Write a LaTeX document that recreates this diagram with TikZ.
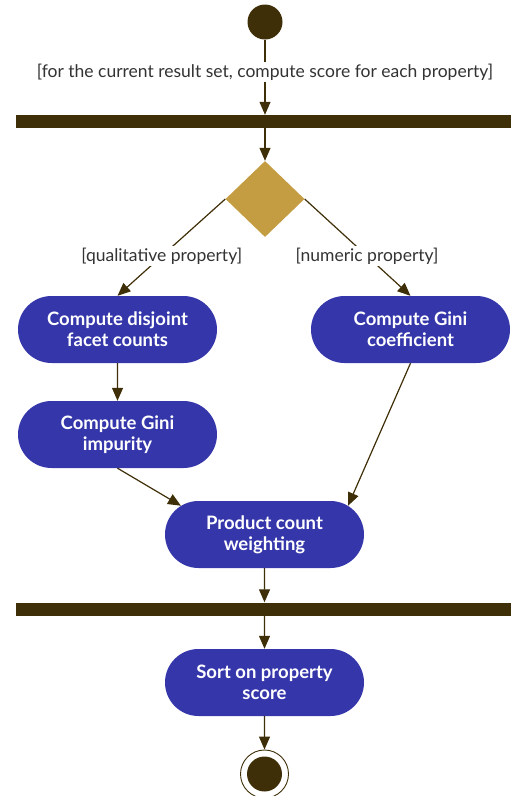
\documentclass[tikz,border=0pt]{standalone}
\usepackage{fontspec}
\setmainfont{Lato}
\usetikzlibrary{arrows.meta,shapes.geometric,shapes.misc}

\definecolor{umlbrown}{HTML}{3F2F08}
\definecolor{umlgold}{HTML}{C49D42}
\definecolor{umlblue}{HTML}{3436AA}
\definecolor{umlgray}{HTML}{333333}

\begin{document}
\begin{tikzpicture}[x=1pt,y=-1pt,
    flow/.style={draw=umlbrown,line width=1.2pt,-{Triangle[length=13pt,width=11pt]}},
    guard/.style={fill=white,text=umlgray,inner sep=2pt,font=\fontsize{17.5}{19}\selectfont},
    activity/.style={rounded rectangle,fill=umlblue,text=white,align=center,
      minimum width=203pt,minimum height=67pt,inner sep=2pt,
      font=\bfseries\fontsize{18.5}{21}\selectfont},
    forkbar/.style={rectangle,fill=umlbrown,minimum width=495pt,minimum height=13pt,inner sep=0pt}]

  \useasboundingbox (0,0) rectangle (511,796);

  \begin{scope}[every node/.style={}]
    \node[circle,fill=umlbrown,minimum size=35pt,inner sep=0pt] (start) at (265,22) {};
    \node[forkbar] (bar1) at (263.5,121.5) {};
    \node[diamond,fill=umlgold,minimum width=79pt,minimum height=76pt,inner sep=0pt] (choice) at (265,199) {};
    \node[activity] (disjoint) at (117.5,329.5) {Compute disjoint\\facet counts};
    \node[activity] (coeff)    at (410.5,329.5) {Compute Gini\\coefficient};
    \node[activity] (impurity) at (117.5,434.5) {Compute Gini\\impurity};
    \node[activity] (weight)   at (264.5,534.5) {Product count\\weighting};
    \node[forkbar] (bar2) at (263.5,609) {};
    \node[activity] (sort)     at (264.5,682.5) {Sort on property\\score};
    \node[circle,draw=umlbrown,line width=0.9pt,minimum size=48pt,inner sep=0pt] (stop) at (264.5,774) {};
    \node[circle,fill=umlbrown,minimum size=35pt,inner sep=0pt] (stopdot) at (stop.center) {};
  \end{scope}

  \path[flow] (start) -- node[guard,pos=0.43] {[for the current result set, compute score for each property]} (start |- bar1.north);
  \path[flow] (bar1.south -| choice) -- (choice.north);
  \path[flow] (choice.west) -- node[guard,pos=0.59] {[qualitative property]} (disjoint.north);
  \path[flow] (choice.east) -- node[guard,pos=0.59] {[numeric property]} (coeff.north);
  \path[flow] (disjoint) -- (impurity);
  \path[flow] (impurity.south) -- (weight.161);
  \path[flow] (coeff.south) -- (weight.19);
  \path[flow] (weight) -- (weight |- bar2.north);
  \path[flow] (bar2.south -| sort) -- (sort);
  \path[flow] (sort) -- (stop);

\end{tikzpicture}
\end{document}
